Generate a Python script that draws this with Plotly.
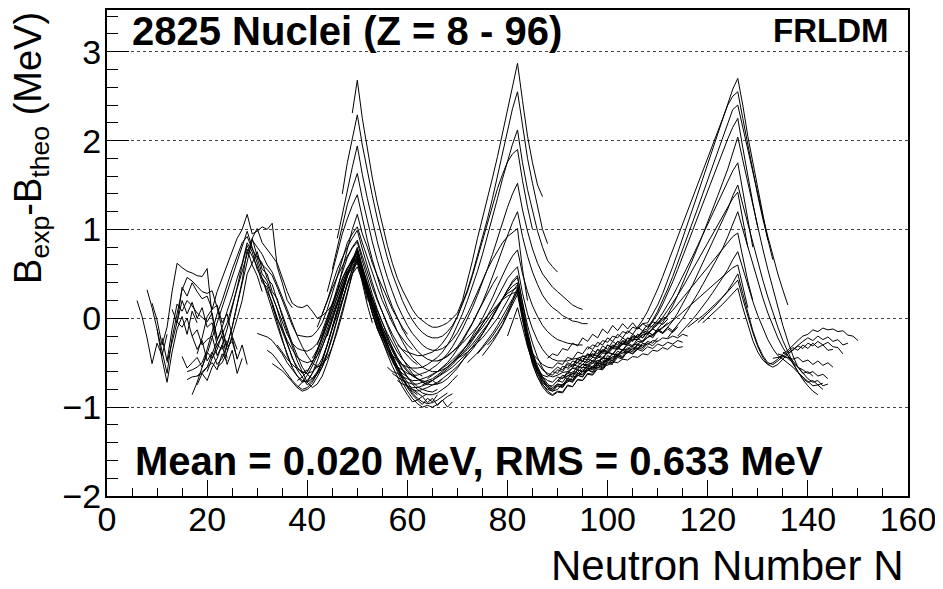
import plotly.graph_objects as go

# ---------------- data: B_exp - B_theo (MeV) along isotopic chains ----------------
# each chain: first neutron number, then residuals at consecutive N
n_l1 = 6
b_l1 = [0.20, 0.02, -0.22, -0.51, -0.28, -0.42, -0.18]
n_l2 = 8
b_l2 = [0.32, 0.12, -0.12, -0.46, -0.72, -0.38, -0.12, 0.02, -0.18, 0.08, -0.05]
n_l3 = 9
b_l3 = [0.17, -0.02, -0.30, -0.10, 0.30, 0.62, 0.57, 0.53, 0.51, 0.48, 0.47, 0.56, 0.02, -0.22]
n_l4 = 10
b_l4 = [-0.12, -0.38, -0.62, -0.22, 0.06, 0.32, 0.46, 0.42, 0.36, 0.30, 0.28, 0.31, 0.12, -0.12, -0.32, -0.26, -0.45]
n_l5 = 11
b_l5 = [-0.22, -0.48, -0.12, 0.16, 0.08, 0.20, 0.14, 0.06, 0.01, -0.04, 0.06, -0.24, -0.14, -0.36, -0.22, -0.46, -0.30, -0.52]
n_l6 = 12
b_l6 = [-0.50, -0.26, -0.04, -0.10, 0.00, -0.20, -0.13, -0.30, -0.24, -0.20, -0.42, -0.30, -0.52, -0.36, -0.62, -0.45]
n_l7 = 15
b_l7 = [-0.43, -0.56, -0.50, -0.44, -0.55, -0.38, -0.45, -0.30, -0.35, -0.25]
n_l8 = 16
b_l8 = [-0.69, -0.66, -0.65, -0.60, -0.55, -0.50, -0.58, -0.40, -0.48]
n_l9 = 13
b_l9 = [0.10, -0.05, 0.20, 0.05, 0.18, 0.00, 0.12, -0.10, -0.05, -0.30, -0.20, -0.45]
n_l10 = 14
b_l10 = [-0.05, 0.35, 0.25, 0.40, 0.30, 0.22, 0.25, 0.10, 0.15, -0.05, 0.05, -0.20, -0.35]
n_l11 = 17
b_l11 = [-0.20, -0.35, -0.25, -0.48, -0.38, -0.52, -0.45, -0.30, -0.10, 0.15, 0.42, 0.78, 0.60, 0.48, 0.30]
n_l12 = 18
b_l12 = [-0.75, -0.62, -0.70, -0.55, -0.45, -0.30, -0.12, 0.10, 0.35, 0.60, 0.82, 0.70, 0.58, 0.40, 0.35, 0.15, -0.05, -0.25, -0.42, -0.55]

n_p1 = 18
b_p1 = [-0.40, -0.22, 0.02, 0.10, 0.30, 0.45, 0.60, 0.75, 0.90, 1.00, 1.17, 0.95, 0.98, 1.03, 1.00, 1.07, 0.58, 0.40, 0.20, 0.12]
n_p2 = 17
b_p2 = [-0.86, -0.72, -0.55, -0.40, -0.22, -0.05, 0.12, 0.30, 0.48, 0.65, 0.80, 0.98, 0.80, 0.62, 0.45, 0.28, 0.10, -0.08, -0.25, -0.40, -0.55, -0.65, -0.72, -0.70, -0.62, -0.52]
n_p3 = 18
b_p3 = [-0.65, -0.62, -0.55, -0.40, -0.25, -0.10, 0.08, 0.25, 0.45, 0.62, 0.85, 0.75, 0.55, 0.45, 0.30, 0.18, 0.00, -0.15, -0.30, -0.45, -0.58, -0.66, -0.75, -0.70, -0.62, -0.55, -0.40]
n_p4 = 20
b_p4 = [-0.60, -0.45, -0.35, -0.18, -0.05, 0.15, 0.32, 0.55, 0.72, 0.90, 0.70, 0.62, 0.45, 0.38, 0.20, 0.05, -0.12, -0.28, -0.42, -0.55, -0.63, -0.68, -0.62, -0.52, -0.38, -0.20, -0.02, 0.18, 0.38, 0.55, 0.68, 0.45, 0.20]
n_p5 = 22
b_p5 = [-0.55, -0.50, -0.38, -0.20, 0.00, 0.20, 0.50, 0.62, 0.75, 0.55, 0.50, 0.30, 0.22, 0.02, -0.15, -0.32, -0.48, -0.60, -0.72, -0.78, -0.74, -0.65, -0.50, -0.32, -0.12, 0.10, 0.30, 0.50, 0.65, 0.40, 0.15, -0.05]
n_p6 = 16
b_p6 = [-0.60, -0.58, -0.55, -0.50, -0.35, -0.15, 0.05, 0.20, 0.38, 0.55, 0.70, 0.85, 0.92, 0.78, 0.68, 0.50, 0.42, 0.25, 0.10, -0.10, -0.28, -0.45, -0.55, -0.62, -0.58]
n_p7 = 24
b_p7 = [-0.30, -0.10, 0.15, 0.40, 0.65, 0.88, 0.80, 0.72, 0.60, 0.52, 0.38, 0.25, 0.10, -0.05, -0.20, -0.32, -0.42, -0.50, -0.55, -0.52, -0.45, -0.32, -0.15, 0.05, 0.28, 0.50, 0.72, 0.50, 0.28, 0.05, -0.12, -0.25]
n_p8 = 30
b_p8 = [-0.17, -0.19, -0.21, -0.25, -0.32, -0.40, -0.50, -0.58, -0.65, -0.70, -0.72, -0.68, -0.60, -0.48, -0.30, -0.12, 0.08, 0.28, 0.48, 0.65, 0.80, 0.58, 0.35, 0.15, -0.02, -0.18, -0.30]
n_p9 = 32
b_p9 = [-0.36, -0.40, -0.47, -0.55, -0.62, -0.70, -0.76, -0.80, -0.78, -0.72, -0.62, -0.48, -0.30, -0.10, 0.10, 0.30, 0.48, 0.62, 0.75, 0.55, 0.32, 0.12, -0.08, -0.22, -0.35, -0.45, -0.55]
n_p10 = 33
b_p10 = [-0.51, -0.55, -0.59, -0.65, -0.72, -0.78, -0.82, -0.80, -0.75, -0.66, -0.55, -0.40, -0.22, -0.02, 0.20, 0.40, 0.55, 0.62, 0.45, 0.25, 0.05, -0.12, -0.25, -0.38, -0.48, -0.56, -0.62, -0.66]

n_u1 = 29
b_u1 = [0.90, 1.01, 0.85, 0.78, 0.70, 0.62, 0.45, 0.30, 0.17, 0.13, 0.12, 0.15, 0.08, 0.00, 0.03, 0.08, 0.15, 0.30, 0.55, 0.78, 1.00, 1.17, 0.95, 0.80, 0.62, 0.48, 0.35, 0.22, 0.10, 0.00, -0.10, -0.18]
n_u2 = 30
b_u2 = [0.70, 0.60, 0.55, 0.48, 0.35, 0.20, 0.05, -0.08, -0.19, -0.20, -0.21, -0.20, -0.14, -0.05, 0.10, 0.28, 0.48, 0.68, 0.85, 0.95, 1.03, 0.85, 0.68, 0.50, 0.35, 0.20, 0.08, -0.05, -0.15, -0.22, -0.30, -0.35]
n_u3 = 31
b_u3 = [0.45, 0.38, 0.25, 0.10, -0.05, -0.18, -0.28, -0.34, -0.36, -0.37, -0.34, -0.28, -0.18, -0.02, 0.15, 0.35, 0.52, 0.68, 0.80, 0.88, 0.70, 0.52, 0.35, 0.20, 0.06, -0.06, -0.18, -0.28, -0.36, -0.42, -0.48, -0.52]
n_u4 = 33
b_u4 = [0.15, 0.00, -0.12, -0.25, -0.35, -0.44, -0.48, -0.50, -0.48, -0.42, -0.32, -0.18, 0.00, 0.18, 0.35, 0.50, 0.62, 0.69, 0.52, 0.36, 0.22, 0.08, -0.05, -0.17, -0.28, -0.38, -0.46, -0.52, -0.58, -0.62, -0.65]
n_u5 = 34
b_u5 = [-0.30, -0.38, -0.46, -0.52, -0.57, -0.60, -0.62, -0.60, -0.55, -0.45, -0.30, -0.12, 0.05, 0.22, 0.38, 0.50, 0.58, 0.42, 0.28, 0.12, -0.02, -0.14, -0.26, -0.36, -0.45, -0.52, -0.58, -0.64, -0.68, -0.72, -0.75]

n_m1 = 43
b_m1 = [0.05, 0.20, 0.38, 0.55, 0.68, 0.80, 0.90, 0.99, 0.78, 0.58, 0.40, 0.22, 0.06, -0.08, -0.22, -0.34, -0.45, -0.54, -0.62, -0.68, -0.72, -0.74, -0.75, -0.74, -0.72, -0.68, -0.62, -0.56, -0.48, -0.40]
n_m2 = 42
b_m2 = [-0.10, 0.05, 0.20, 0.34, 0.47, 0.59, 0.70, 0.79, 0.86, 0.65, 0.45, 0.27, 0.10, -0.05, -0.20, -0.34, -0.46, -0.57, -0.66, -0.74, -0.80, -0.84, -0.86, -0.86, -0.84, -0.80, -0.76, -0.70, -0.64]
n_m3 = 42
b_m3 = [-0.30, -0.14, 0.02, 0.17, 0.31, 0.44, 0.56, 0.67, 0.76, 0.55, 0.36, 0.18, 0.02, -0.14, -0.28, -0.42, -0.55, -0.66, -0.76, -0.84, -0.90, -0.94, -0.96, -0.95, -0.92, -0.88, -0.84]
n_m4 = 40
b_m4 = [-0.60, -0.50, -0.36, -0.20, -0.03, 0.14, 0.30, 0.45, 0.57, 0.64, 0.70, 0.50, 0.30, 0.12, -0.05, -0.20, -0.35, -0.48, -0.60, -0.72, -0.82, -0.90, -0.96, -1.00, -0.98, -1.00, -0.97, -0.92, -0.88, -0.85]
n_m5 = 40
b_m5 = [-0.72, -0.62, -0.48, -0.32, -0.15, 0.02, 0.18, 0.34, 0.48, 0.57, 0.64, 0.44, 0.25, 0.06, -0.10, -0.26, -0.40, -0.54, -0.66, -0.77, -0.86, -0.94, -0.92, -0.97, -0.90, -0.94, -0.86]
n_m6 = 38
b_m6 = [-0.70, -0.66, -0.60, -0.50, -0.38, -0.22, -0.06, 0.10, 0.26, 0.40, 0.52, 0.61, 0.68, 0.48, 0.30, 0.14, -0.02, -0.16, -0.30, -0.42, -0.54, -0.64, -0.72, -0.80, -0.84, -0.88, -0.85]
n_m7 = 38
b_m7 = [-0.78, -0.72, -0.64, -0.54, -0.42, -0.28, -0.12, 0.04, 0.20, 0.36, 0.50, 0.59, 0.66, 0.46, 0.28, 0.10, -0.06, -0.20, -0.34, -0.46, -0.58, -0.68, -0.76, -0.82, -0.86]
n_m8 = 44
b_m8 = [-0.20, -0.02, 0.16, 0.34, 0.50, 0.64, 0.78, 0.58, 0.40, 0.22, 0.05, -0.10, -0.24, -0.37, -0.48, -0.58, -0.66, -0.72, -0.77, -0.80, -0.82, -0.83, -0.80]
n_m9 = 45
b_m9 = [-0.10, 0.10, 0.30, 0.48, 0.62, 0.74, 0.56, 0.38, 0.20, 0.04, -0.10, -0.22, -0.34, -0.44, -0.53, -0.60, -0.65, -0.68, -0.70, -0.72, -0.70, -0.74, -0.68]
n_m10 = 41
b_m10 = [-0.45, -0.35, -0.22, -0.08, 0.08, 0.24, 0.40, 0.54, 0.66, 0.74, 0.52, 0.34, 0.16, 0.00, -0.15, -0.30, -0.44, -0.56, -0.68, -0.78, -0.86, -0.92, -0.88, -0.95, -0.90, -0.98, -0.92, -1.00, -0.94]

n_z46 = 44
b_z46 = [0.30, 0.52, 0.73, 0.95, 1.12, 1.27, 1.39, 1.12, 0.88, 0.66, 0.46, 0.28, 0.12, -0.02, -0.15, -0.26, -0.36, -0.44, -0.50, -0.55, -0.58, -0.60, -0.60, -0.58, -0.55, -0.50, -0.44, -0.37, -0.30, -0.22, -0.14, -0.06, 0.02]
n_z47 = 45
b_z47 = [0.55, 0.80, 1.05, 1.28, 1.46, 1.63, 1.35, 1.10, 0.86, 0.65, 0.46, 0.28, 0.13, 0.00, -0.12, -0.22, -0.30, -0.37, -0.42, -0.46, -0.48, -0.48, -0.46, -0.43, -0.38, -0.32, -0.24, -0.15, -0.05, 0.06, 0.17, 0.28, 0.38, 0.47]
n_z48 = 46
b_z48 = [0.90, 1.18, 1.45, 1.70, 1.94, 1.62, 1.35, 1.10, 0.86, 0.65, 0.46, 0.30, 0.15, 0.03, -0.08, -0.17, -0.24, -0.30, -0.34, -0.36, -0.36, -0.34, -0.30, -0.24, -0.16, -0.06, 0.05, 0.17, 0.30, 0.43, 0.55, 0.66, 0.76, 0.85, 0.92, 0.97, 1.01, 0.55, 0.20]
n_z49 = 47
b_z49 = [1.40, 1.75, 2.02, 2.29, 1.95, 1.65, 1.38, 1.12, 0.90, 0.68, 0.50, 0.35, 0.20, 0.08, -0.02, -0.10, -0.16, -0.20, -0.22, -0.22, -0.20, -0.15, -0.08, 0.02, 0.15, 0.30, 0.48, 0.68, 0.88, 1.08, 1.28, 1.46, 1.62, 1.76, 1.85, 1.90, 1.55, 1.25, 1.00]
n_z50 = 49
b_z50 = [2.31, 2.68, 2.25, 1.90, 1.58, 1.30, 1.05, 0.82, 0.62, 0.45, 0.32, 0.20, 0.10, 0.02, -0.03, -0.07, -0.10, -0.10, -0.08, -0.05, 0.00, 0.06, 0.20, 0.42, 0.65, 0.90, 1.12, 1.35, 1.58, 1.82, 2.08, 2.35, 2.62, 2.87, 2.45, 2.05, 1.75, 1.50, 1.37]
n_z51 = 58
b_z51 = [-0.30, -0.35, -0.38, -0.40, -0.42, -0.42, -0.40, -0.38, -0.34, -0.28, -0.20, -0.10, 0.02, 0.16, 0.32, 0.50, 0.70, 0.90, 1.12, 1.35, 1.60, 1.86, 2.12, 2.36, 2.55, 2.15, 1.80, 1.52, 1.25, 1.00, 0.84]
n_z52 = 56
b_z52 = [-0.35, -0.42, -0.48, -0.52, -0.55, -0.56, -0.56, -0.55, -0.52, -0.48, -0.44, -0.38, -0.30, -0.20, -0.08, 0.05, 0.20, 0.36, 0.53, 0.72, 0.92, 1.13, 1.35, 1.57, 1.78, 1.96, 2.12, 1.75, 1.45, 1.20, 0.98, 0.80, 0.65, 0.58, 0.52]
n_z53 = 57
b_z53 = [-0.50, -0.55, -0.58, -0.62, -0.64, -0.64, -0.62, -0.60, -0.56, -0.52, -0.46, -0.40, -0.32, -0.22, -0.12, 0.00, 0.12, 0.26, 0.40, 0.56, 0.72, 0.90, 1.08, 1.25, 1.40, 1.52, 1.22, 0.98, 0.78, 0.62, 0.50, 0.42, 0.35, 0.30, 0.25, 0.20, 0.15, 0.12, 0.10]
n_z54 = 56
b_z54 = [-0.55, -0.60, -0.62, -0.66, -0.68, -0.70, -0.70, -0.68, -0.66, -0.63, -0.60, -0.55, -0.50, -0.43, -0.35, -0.26, -0.16, -0.06, 0.06, 0.18, 0.32, 0.46, 0.62, 0.78, 0.94, 1.08, 1.20, 0.92, 0.70, 0.52, 0.38, 0.26, 0.18, 0.12, 0.08, 0.03, 0.00, -0.03, -0.04, -0.06, -0.06]
n_z55 = 57
b_z55 = [-0.62, -0.66, -0.70, -0.72, -0.74, -0.74, -0.72, -0.70, -0.68, -0.64, -0.60, -0.55, -0.50, -0.44, -0.37, -0.29, -0.20, -0.10, 0.00, 0.11, 0.23, 0.36, 0.49, 0.60, 0.70, 0.77, 0.50, 0.30, 0.14, 0.02, -0.08, -0.15, -0.20, -0.24, -0.26, -0.28, -0.29, -0.30, -0.30]
n_z56 = 58
b_z56 = [-0.70, -0.74, -0.76, -0.78, -0.78, -0.76, -0.74, -0.70, -0.66, -0.62, -0.57, -0.52, -0.46, -0.40, -0.33, -0.25, -0.16, -0.07, 0.03, 0.13, 0.24, 0.35, 0.45, 0.52, 0.58, 0.28, 0.05, -0.12, -0.25, -0.35, -0.42, -0.46, -0.48, -0.48, -0.48, -0.46, -0.45, -0.43, -0.42, -0.40]
n_z57 = 60
b_z57 = [-0.78, -0.80, -0.82, -0.80, -0.78, -0.75, -0.72, -0.68, -0.64, -0.59, -0.54, -0.48, -0.42, -0.35, -0.27, -0.18, -0.09, 0.01, 0.11, 0.22, 0.32, 0.40, 0.46, 0.18, -0.08, -0.28, -0.44, -0.56, -0.64, -0.66, -0.64, -0.61, -0.60, -0.56, -0.56, -0.52, -0.52, -0.48, -0.48, -0.45]
n_z58 = 63
b_z58 = [-0.75, -0.72, -0.70, -0.66, -0.63, -0.59, -0.55, -0.50, -0.45, -0.39, -0.32, -0.25, -0.17, -0.08, 0.02, 0.12, 0.22, 0.30, 0.36, 0.40, 0.10, -0.18, -0.40, -0.56, -0.68, -0.76, -0.80, -0.76, -0.77, -0.70, -0.71, -0.64, -0.66, -0.58, -0.61, -0.53, -0.56, -0.49]
n_z59 = 64
b_z59 = [-0.68, -0.64, -0.60, -0.56, -0.52, -0.47, -0.42, -0.36, -0.30, -0.24, -0.17, -0.10, -0.02, 0.06, 0.14, 0.22, 0.28, 0.32, 0.35, 0.05, -0.24, -0.46, -0.62, -0.74, -0.82, -0.86, -0.82, -0.83, -0.75, -0.77, -0.69, -0.70, -0.63, -0.64, -0.57, -0.58, -0.51, -0.52]
n_z60 = 66
b_z60 = [-0.48, -0.46, -0.42, -0.38, -0.33, -0.28, -0.22, -0.16, -0.10, -0.04, 0.02, 0.09, 0.15, 0.21, 0.25, 0.28, 0.30, 0.00, -0.28, -0.50, -0.66, -0.77, -0.84, -0.87, -0.83, -0.84, -0.76, -0.77, -0.69, -0.70, -0.62, -0.63, -0.55, -0.57, -0.49, -0.51, -0.44, -0.46]
n_z61 = 68
b_z61 = [-0.55, -0.50, -0.46, -0.41, -0.35, -0.29, -0.22, -0.15, -0.07, 0.02, 0.12, 0.22, 0.32, 0.42, 0.48, 0.16, -0.14, -0.38, -0.54, -0.66, -0.74, -0.78, -0.74, -0.75, -0.68, -0.69, -0.62, -0.63, -0.56, -0.57, -0.50, -0.51, -0.45, -0.46, -0.40]
n_z62 = 70
b_z62 = [-0.45, -0.42, -0.38, -0.33, -0.28, -0.22, -0.15, -0.08, 0.00, 0.10, 0.20, 0.30, 0.38, 0.08, -0.20, -0.42, -0.58, -0.70, -0.78, -0.82, -0.80, -0.74, -0.72, -0.66, -0.65, -0.60, -0.59, -0.54, -0.53, -0.48, -0.48, -0.43, -0.43, -0.38, -0.39, -0.34, -0.35, -0.30]
n_z63 = 72
b_z63 = [-0.50, -0.45, -0.39, -0.32, -0.25, -0.17, -0.08, 0.02, 0.12, 0.22, 0.34, 0.06, -0.22, -0.45, -0.60, -0.70, -0.76, -0.76, -0.70, -0.72, -0.64, -0.66, -0.58, -0.60, -0.52, -0.55, -0.47, -0.50, -0.42, -0.45, -0.37, -0.40, -0.33, -0.36, -0.29, -0.31, -0.26]
n_z64 = 74
b_z64 = [-0.40, -0.34, -0.27, -0.20, -0.12, -0.03, 0.08, 0.20, 0.30, 0.02, -0.26, -0.48, -0.62, -0.72, -0.78, -0.80, -0.74, -0.76, -0.68, -0.70, -0.62, -0.64, -0.56, -0.58, -0.50, -0.53, -0.45, -0.48, -0.40, -0.43, -0.35, -0.38, -0.30, -0.33, -0.26, -0.28, -0.22]
n_z65 = 75
b_z65 = [-0.42, -0.35, -0.27, -0.18, -0.08, 0.04, 0.16, 0.27, -0.02, -0.30, -0.52, -0.66, -0.75, -0.80, -0.82, -0.76, -0.78, -0.70, -0.72, -0.64, -0.66, -0.58, -0.60, -0.52, -0.55, -0.47, -0.50, -0.42, -0.45, -0.37, -0.40, -0.33, -0.35, -0.28, -0.31, -0.25]
n_z66 = 76
b_z66 = [-0.30, -0.24, -0.16, -0.07, 0.05, 0.18, 0.32, 0.04, -0.22, -0.44, -0.58, -0.66, -0.70, -0.72, -0.66, -0.68, -0.60, -0.62, -0.54, -0.56, -0.48, -0.51, -0.43, -0.46, -0.38, -0.41, -0.33, -0.36, -0.28, -0.31, -0.23, -0.26, -0.18, -0.22, -0.14, -0.17, -0.10]
n_z67 = 80
b_z67 = [-0.20, -0.05, 0.12, -0.10, -0.32, -0.48, -0.58, -0.64, -0.66, -0.60, -0.62, -0.54, -0.56, -0.48, -0.50, -0.42, -0.45, -0.36, -0.40, -0.31, -0.35, -0.26, -0.30, -0.22, -0.26, -0.18, -0.22, -0.15, -0.18, -0.12, -0.15]
n_z68 = 84
b_z68 = [-0.30, -0.40, -0.46, -0.52, -0.55, -0.56, -0.50, -0.52, -0.44, -0.46, -0.38, -0.40, -0.32, -0.35, -0.27, -0.30, -0.22, -0.26, -0.18, -0.22, -0.14, -0.18, -0.10, -0.14, -0.07, -0.10, -0.04, -0.07, -0.01]
n_z69 = 86
b_z69 = [-0.50, -0.58, -0.62, -0.64, -0.58, -0.60, -0.52, -0.55, -0.46, -0.49, -0.40, -0.44, -0.35, -0.39, -0.30, -0.34, -0.26, -0.30, -0.22, -0.26, -0.18, -0.22, -0.15, -0.19, -0.12, -0.16, -0.10, -0.14, -0.08]
n_z70 = 88
b_z70 = [-0.45, -0.40, -0.42, -0.34, -0.36, -0.28, -0.31, -0.22, -0.26, -0.18, -0.22, -0.12, -0.17, -0.08, -0.14, -0.06, -0.12, -0.05, -0.12, -0.06, -0.10, -0.04, -0.06, 0.00, 0.02]
n_z71 = 89
b_z71 = [-0.60, -0.55, -0.58, -0.50, -0.53, -0.45, -0.48, -0.40, -0.43, -0.35, -0.38, -0.30, -0.33, -0.26, -0.29, -0.22, -0.25, -0.18, -0.22, -0.15, -0.19, -0.13, -0.17, -0.12, -0.16, -0.10]
n_z72 = 90
b_z72 = [-0.72, -0.66, -0.68, -0.62, -0.63, -0.58, -0.59, -0.55, -0.56, -0.52, -0.53, -0.49, -0.50, -0.46, -0.47, -0.43, -0.44, -0.40, -0.41, -0.36, -0.37, -0.33, -0.35, -0.30, -0.33, -0.32]
n_z73 = 91
b_z73 = [-0.68, -0.62, -0.64, -0.58, -0.60, -0.54, -0.56, -0.50, -0.52, -0.46, -0.48, -0.42, -0.44, -0.38, -0.40, -0.35, -0.37, -0.32, -0.34, -0.29, -0.31, -0.27, -0.29, -0.25, -0.27]
n_z74 = 92
b_z74 = [-0.62, -0.56, -0.58, -0.52, -0.54, -0.48, -0.50, -0.44, -0.46, -0.40, -0.42, -0.36, -0.38, -0.32, -0.34, -0.28, -0.30, -0.25, -0.26, -0.22, -0.23, -0.20, -0.22, -0.18, -0.20]
n_z75 = 93
b_z75 = [-0.55, -0.50, -0.52, -0.46, -0.48, -0.42, -0.44, -0.38, -0.40, -0.34, -0.36, -0.30, -0.32, -0.26, -0.27, -0.21, -0.20, -0.14, -0.10, -0.05]
n_z77 = 90
b_z77 = [-0.70, -0.64, -0.66, -0.60, -0.61, -0.55, -0.56, -0.50, -0.51, -0.45, -0.46, -0.40, -0.41, -0.35, -0.35, -0.30, -0.29, -0.25, -0.22, -0.18, -0.15, -0.11, -0.07, -0.03, 0.02, 0.07, 0.12, 0.17, 0.22, 0.27, 0.32, 0.37, 0.42, 0.47, 0.52, 0.57, 0.60, 0.35, 0.12]
n_z78 = 92
b_z78 = [-0.58, -0.52, -0.54, -0.48, -0.50, -0.44, -0.45, -0.39, -0.40, -0.34, -0.35, -0.29, -0.30, -0.24, -0.24, -0.19, -0.17, -0.12, -0.08, -0.03, 0.03, 0.09, 0.16, 0.23, 0.30, 0.37, 0.44, 0.51, 0.58, 0.64, 0.71, 0.78, 0.85, 0.92, 0.96, 0.68, 0.42, 0.20]
n_z79 = 94
b_z79 = [-0.50, -0.45, -0.47, -0.41, -0.43, -0.37, -0.39, -0.33, -0.34, -0.28, -0.29, -0.23, -0.24, -0.18, -0.17, -0.11, -0.06, 0.01, 0.09, 0.17, 0.26, 0.35, 0.45, 0.55, 0.65, 0.75, 0.85, 0.95, 1.05, 1.15, 1.25, 1.35, 1.42, 1.10, 0.80]
n_z80 = 96
b_z80 = [-0.45, -0.40, -0.42, -0.36, -0.38, -0.31, -0.33, -0.26, -0.28, -0.21, -0.22, -0.16, -0.14, -0.08, -0.02, 0.06, 0.15, 0.25, 0.36, 0.47, 0.58, 0.70, 0.82, 0.94, 1.06, 1.18, 1.30, 1.42, 1.54, 1.66, 1.75, 1.42, 1.10, 0.80]
n_z81 = 98
b_z81 = [-0.40, -0.35, -0.37, -0.30, -0.32, -0.25, -0.27, -0.20, -0.21, -0.14, -0.12, -0.04, 0.05, 0.16, 0.28, 0.41, 0.55, 0.69, 0.84, 0.99, 1.14, 1.29, 1.44, 1.59, 1.74, 1.88, 2.02, 2.15, 2.25, 1.92, 1.60, 1.30, 1.02]
n_z82 = 96
b_z82 = [-0.35, -0.30, -0.32, -0.25, -0.27, -0.20, -0.22, -0.15, -0.17, -0.10, -0.12, -0.06, -0.05, 0.05, 0.15, 0.28, 0.42, 0.58, 0.74, 0.90, 1.06, 1.23, 1.40, 1.57, 1.74, 1.91, 2.08, 2.25, 2.42, 2.58, 2.70, 2.40, 2.05, 1.75, 1.45, 1.15, 0.88]
n_z82b = 106
b_z82b = [-0.10, -0.02, 0.08, 0.20, 0.33, 0.47, 0.62, 0.77, 0.92, 1.07, 1.22, 1.37, 1.52, 1.67, 1.82, 1.97, 2.12, 2.26, 2.40, 2.50, 2.55, 2.25, 1.95, 1.66, 1.38, 1.12, 0.88, 0.66]
n_z83 = 108
b_z83 = [-0.10, -0.02, 0.08, 0.20, 0.33, 0.47, 0.62, 0.77, 0.92, 1.08, 1.24, 1.40, 1.56, 1.72, 1.88, 2.04, 2.20, 2.35, 2.40, 2.15, 1.88, 1.62, 1.38, 1.15, 0.92, 0.70, 0.50, 0.32, 0.15]
n_z84 = 110
b_z84 = [-0.12, -0.05, 0.04, 0.14, 0.26, 0.39, 0.52, 0.66, 0.80, 0.94, 1.08, 1.23, 1.38, 1.53, 1.68, 1.86, 2.04, 1.78, 1.52, 1.27, 1.02, 0.78, 0.55, 0.33, 0.12, -0.08, -0.26, -0.42, -0.55, -0.62, -0.60, -0.65]
n_z85 = 112
b_z85 = [-0.10, -0.03, 0.06, 0.16, 0.27, 0.38, 0.50, 0.62, 0.74, 0.86, 0.98, 1.10, 1.23, 1.38, 1.50, 1.28, 1.06, 0.84, 0.63, 0.43, 0.24, 0.06, -0.10, -0.25, -0.38, -0.50, -0.60, -0.68, -0.72, -0.70, -0.75, -0.73]
n_z86 = 112
b_z86 = [-0.22, -0.15, -0.08, 0.00, 0.09, 0.18, 0.28, 0.38, 0.48, 0.58, 0.68, 0.79, 0.92, 1.07, 1.20, 1.00, 0.80, 0.60, 0.41, 0.23, 0.06, -0.09, -0.22, -0.33, -0.42, -0.52, -0.61, -0.69, -0.76, -0.82, -0.86]
n_z87 = 114
b_z87 = [-0.20, -0.14, -0.08, -0.01, 0.06, 0.13, 0.21, 0.29, 0.37, 0.46, 0.55, 0.66, 0.75, 0.56, 0.37, 0.19, 0.03, -0.11, -0.24, -0.34, -0.42, -0.46, -0.50, -0.55, -0.61, -0.66, -0.71, -0.76, -0.75, -0.80]
n_z88 = 116
b_z88 = [-0.10, -0.06, -0.02, 0.03, 0.08, 0.13, 0.18, 0.24, 0.30, 0.37, 0.43, 0.22, 0.02, -0.16, -0.32, -0.44, -0.52, -0.55, -0.52, -0.46, -0.40, -0.36, -0.31, -0.34, -0.28, -0.31, -0.26, -0.30, -0.27, -0.32, -0.33, -0.40]
n_z89 = 118
b_z89 = [-0.05, 0.00, 0.05, 0.11, 0.17, 0.24, 0.31, 0.40, 0.50, 0.28, 0.06, -0.14, -0.30, -0.42, -0.50, -0.52, -0.48, -0.43, -0.38, -0.33, -0.36, -0.30, -0.34, -0.28, -0.33, -0.30, -0.36, -0.35]
n_z90 = 119
b_z90 = [-0.05, 0.00, 0.05, 0.10, 0.16, 0.22, 0.28, 0.34, 0.12, -0.08, -0.25, -0.38, -0.47, -0.52, -0.50, -0.46, -0.40, -0.36, -0.30, -0.25, -0.20, -0.18, -0.13, -0.15, -0.11, -0.13, -0.12, -0.15, -0.14, -0.19, -0.20, -0.25]
n_t1 = 133
b_t1 = [-0.45, -0.44, -0.43, -0.44, -0.46, -0.44, -0.49, -0.47, -0.52, -0.48, -0.53, -0.50, -0.55]
n_t2 = 134
b_t2 = [-0.40, -0.42, -0.45, -0.50, -0.55, -0.58, -0.62, -0.60, -0.65, -0.63, -0.68]
n_t3 = 135
b_t3 = [-0.38, -0.42, -0.48, -0.55, -0.62, -0.68, -0.72, -0.70, -0.76, -0.74]
n_t4 = 136
b_t4 = [-0.40, -0.35, -0.30, -0.26, -0.22, -0.25, -0.20, -0.24, -0.21, -0.26, -0.24, -0.30, -0.28]

chains = [
    (n_l1, b_l1), (n_l2, b_l2), (n_l3, b_l3), (n_l4, b_l4), (n_l5, b_l5), (n_l6, b_l6),
    (n_l7, b_l7), (n_l8, b_l8), (n_l9, b_l9), (n_l10, b_l10), (n_l11, b_l11), (n_l12, b_l12),
    (n_p1, b_p1), (n_p2, b_p2), (n_p3, b_p3), (n_p4, b_p4), (n_p5, b_p5), (n_p6, b_p6), (n_p7, b_p7), (n_p8, b_p8),
    (n_p9, b_p9), (n_p10, b_p10), (n_u1, b_u1), (n_u2, b_u2), (n_u3, b_u3), (n_u4, b_u4), (n_u5, b_u5),
    (n_m1, b_m1), (n_m2, b_m2), (n_m3, b_m3), (n_m4, b_m4), (n_m5, b_m5), (n_m6, b_m6), (n_m7, b_m7),
    (n_m8, b_m8), (n_m9, b_m9), (n_m10, b_m10),
    (n_z46, b_z46), (n_z47, b_z47), (n_z48, b_z48), (n_z49, b_z49), (n_z50, b_z50), (n_z51, b_z51),
    (n_z52, b_z52), (n_z53, b_z53), (n_z54, b_z54), (n_z55, b_z55), (n_z56, b_z56), (n_z57, b_z57),
    (n_z58, b_z58), (n_z59, b_z59), (n_z60, b_z60), (n_z61, b_z61), (n_z62, b_z62), (n_z63, b_z63),
    (n_z64, b_z64), (n_z65, b_z65), (n_z66, b_z66), (n_z67, b_z67), (n_z68, b_z68), (n_z69, b_z69),
    (n_z70, b_z70), (n_z71, b_z71), (n_z72, b_z72), (n_z73, b_z73), (n_z74, b_z74), (n_z75, b_z75),
    (n_z77, b_z77), (n_z78, b_z78), (n_z79, b_z79), (n_z80, b_z80), (n_z81, b_z81), (n_z82, b_z82),
    (n_z82b, b_z82b), (n_z83, b_z83), (n_z84, b_z84), (n_z85, b_z85), (n_z86, b_z86), (n_z87, b_z87),
    (n_z88, b_z88), (n_z89, b_z89), (n_z90, b_z90),
    (n_t1, b_t1), (n_t2, b_t2), (n_t3, b_t3), (n_t4, b_t4),
]

x_ticks = [0, 20, 40, 60, 80, 100, 120, 140, 160]
y_ticks = [-2, -1, 0, 1, 2, 3]

# ---------------- figure ----------------
xs, ys = [], []
for n0, vals in chains:
    xs.extend(range(n0, n0 + len(vals)))
    ys.extend(vals)
    xs.append(None)
    ys.append(None)

fig = go.Figure()
fig.add_trace(go.Scatter(x=xs, y=ys, mode="lines",
                         line=dict(color="black", width=1),
                         connectgaps=False, hoverinfo="skip"))

FONT = "Liberation Sans, Arial, Helvetica, sans-serif"

# the page body adds an 8 px offset, so the figure is 8 px smaller and margins shifted
fig.update_layout(
    width=935, height=581,
    margin=dict(l=99, r=35, t=2, b=93),
    paper_bgcolor="white", plot_bgcolor="white",
    showlegend=False,
    font=dict(family=FONT, color="black"),
)

fig.update_xaxes(
    range=[0, 160], tickvals=x_ticks, ticktext=[str(v) for v in x_ticks],
    ticks="inside", ticklen=16, tickwidth=1, tickcolor="black",
    minor=dict(ticks="inside", ticklen=8, dtick=5, tick0=0, tickcolor="black", showgrid=False),
    showline=True, linecolor="black", linewidth=2, mirror=True,
    showgrid=False, zeroline=False, automargin=False,
    ticklabelstandoff=-8,
    tickfont=dict(size=34, family=FONT, color="black"),
)
fig.update_yaxes(
    range=[-2, 3.47], tickvals=y_ticks,
    ticks="inside", ticklen=22, tickwidth=1, tickcolor="black",
    minor=dict(ticks="inside", ticklen=11, dtick=0.2, tick0=0, tickcolor="black", showgrid=False),
    showline=True, linecolor="black", linewidth=2, mirror=True,
    showgrid=True, gridcolor="#444444", gridwidth=1, griddash="dot",
    zeroline=False, automargin=False,
    ticklabelstandoff=-3,
    tickfont=dict(size=34, family=FONT, color="black"),
)

fig.add_annotation(text="<b>2825 Nuclei (Z = 8 - 96)</b>", xref="paper", yref="paper",
                   x=0.029, y=0.957, xanchor="left", yanchor="middle", showarrow=False,
                   font=dict(size=40, family=FONT, color="black"))
fig.add_annotation(text="<b>FRLDM</b>", xref="paper", yref="paper",
                   x=0.978, y=0.957, xanchor="right", yanchor="middle", showarrow=False,
                   font=dict(size=33, family=FONT, color="black"))
fig.add_annotation(text="<b>Mean = 0.020 MeV, RMS = 0.633 MeV</b>", xref="paper", yref="paper",
                   x=0.0325, y=0.072, xanchor="left", yanchor="middle", showarrow=False,
                   font=dict(size=40, family=FONT, color="black"))
fig.add_annotation(text="Neutron Number N", xref="paper", yref="paper",
                   x=0.996, y=-0.144, xanchor="right", yanchor="middle", showarrow=False,
                   font=dict(size=42, family=FONT, color="black"))
fig.add_annotation(text="B<sub>exp</sub>-B<sub>theo</sub> (MeV)", xref="paper", yref="paper",
                   x=-0.095, y=1.0, xanchor="center", yanchor="top", showarrow=False,
                   textangle=-90, font=dict(size=38, family=FONT, color="black"))

fig.write_html("out.html")
